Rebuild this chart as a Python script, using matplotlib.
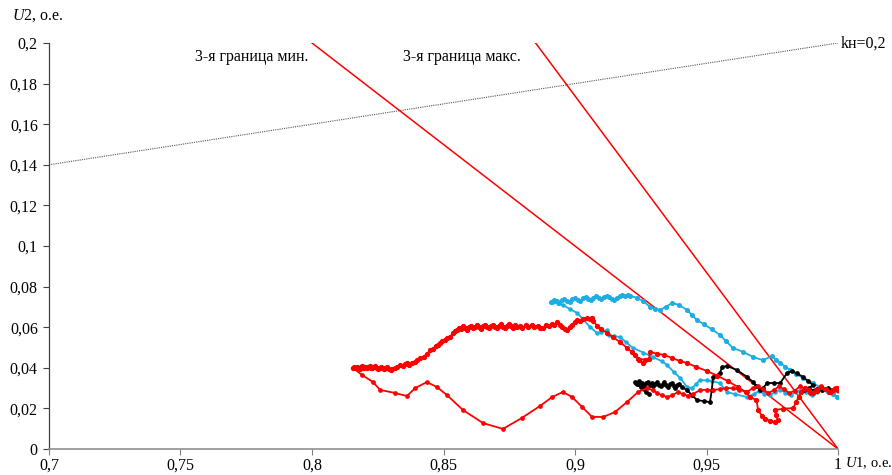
import matplotlib
matplotlib.use('Agg')
import matplotlib.pyplot as plt
from matplotlib.ticker import FuncFormatter

plt.rcParams['font.family'] = ['Liberation Serif', 'DejaVu Serif']
plt.rcParams['mathtext.fontset'] = 'custom'
plt.rcParams['mathtext.rm'] = 'Liberation Serif'
plt.rcParams['mathtext.it'] = 'Liberation Serif:italic'

# граница kн=0,2 и 3-и границы
kn_x = [0.7, 1.0]
kn_y = [0.14, 0.2]
gr_min_x = [0.8, 1.0]
gr_min_y = [0.2, 0.0]
gr_max_x = [0.885, 1.0]
gr_max_y = [0.2, 0.0]

# красная траектория 1 (верхняя)
red1_x = [0.8155, 0.8160, 0.8166, 0.8170, 0.8176, 0.8181, 0.8186, 0.8192, 0.8197, 0.8203,
          0.8208, 0.8214, 0.8219, 0.8225, 0.8230, 0.8236, 0.8241, 0.8247, 0.8252, 0.8258,
          0.8263, 0.8269, 0.8275, 0.8281, 0.8287, 0.8293, 0.8299, 0.8305,
          0.8315, 0.8325, 0.8335, 0.8345, 0.8355, 0.8362, 0.8370, 0.8380, 0.8390, 0.8400,
          0.8412, 0.8425, 0.8437, 0.8449, 0.8460, 0.8470, 0.8480, 0.8487, 0.8495, 0.8505,
          0.8515, 0.8525, 0.8535, 0.8545, 0.8551,
          0.8559, 0.8566, 0.8574, 0.8581, 0.8589, 0.8597, 0.8604, 0.8612, 0.8620, 0.8627,
          0.8635, 0.8643, 0.8650, 0.8658, 0.8666, 0.8673, 0.8681, 0.8689, 0.8696, 0.8704,
          0.8712, 0.8719, 0.8727, 0.8735, 0.8742, 0.8750, 0.8758, 0.8765, 0.8773, 0.8780,
          0.8790, 0.8800, 0.8812, 0.8822, 0.8835, 0.8845, 0.8858, 0.8868, 0.8878, 0.8890,
          0.8900, 0.8912, 0.8922, 0.8932, 0.8942, 0.8952, 0.8962, 0.8970, 0.8980, 0.8990,
          0.9000, 0.9008, 0.9020, 0.9032, 0.9046, 0.9058, 0.9065, 0.9070, 0.9085, 0.9100,
          0.9122, 0.9145, 0.9170, 0.9198, 0.9215, 0.9228, 0.9245, 0.9258, 0.9240, 0.9265,
          0.9282, 0.9285, 0.9310, 0.9340, 0.9370, 0.9400, 0.9425, 0.9460, 0.9500, 0.9540,
          0.9580, 0.9620, 0.9650, 0.9665, 0.9690, 0.9696, 0.9710, 0.9722, 0.9740, 0.9760,
          0.9770, 0.9765, 0.9760, 0.9790, 0.9830, 0.9840, 0.9850, 0.9860, 0.9875, 0.9890,
          0.9905, 0.9920, 0.9935, 0.9950, 0.9965, 0.9980, 0.9995, 1.0000]
red1_y = [0.0400, 0.0404, 0.0398, 0.0405, 0.0401, 0.0396, 0.0403, 0.0407, 0.0399, 0.0404,
          0.0398, 0.0406, 0.0409, 0.0401, 0.0397, 0.0404, 0.0408, 0.0400, 0.0395, 0.0401,
          0.0406, 0.0398, 0.0393, 0.0399, 0.0404, 0.0396, 0.0391, 0.0394,
          0.0400, 0.0405, 0.0412, 0.0408, 0.0418, 0.0423, 0.0416, 0.0425, 0.0430, 0.0437,
          0.0446, 0.0455, 0.0468, 0.0488, 0.0495, 0.0505, 0.0512, 0.0522, 0.0530, 0.0538,
          0.0545, 0.0552, 0.0570, 0.0580, 0.0586,
          0.0598, 0.0590, 0.0604, 0.0596, 0.0588, 0.0601, 0.0608, 0.0595, 0.0603, 0.0611,
          0.0599, 0.0592, 0.0605, 0.0612, 0.0600, 0.0594, 0.0606, 0.0613, 0.0602, 0.0595,
          0.0607, 0.0614, 0.0603, 0.0596, 0.0608, 0.0615, 0.0604, 0.0597, 0.0609, 0.0601,
          0.0605, 0.0598, 0.0610, 0.0602, 0.0612, 0.0600, 0.0608, 0.0594, 0.0596, 0.0612,
          0.0605, 0.0618, 0.0610, 0.0626, 0.0612, 0.0600, 0.0592, 0.0586, 0.0600, 0.0612,
          0.0625, 0.0635, 0.0630, 0.0642, 0.0645, 0.0640, 0.0645, 0.0630, 0.0605, 0.0590,
          0.0571, 0.0551, 0.0528, 0.0498, 0.0478, 0.0463, 0.0440, 0.0424, 0.0445, 0.0440,
          0.0445, 0.0478, 0.0470, 0.0463, 0.0448, 0.0433, 0.0424, 0.0405, 0.0385, 0.0362,
          0.0335, 0.0305, 0.0280, 0.0256, 0.0241, 0.0192, 0.0165, 0.0148, 0.0140, 0.0133,
          0.0145, 0.0170, 0.0192, 0.0198, 0.0202, 0.0230, 0.0256, 0.0280, 0.0300, 0.0290,
          0.0275, 0.0285, 0.0305, 0.0295, 0.0280, 0.0290, 0.0300, 0.0293]

# красная траектория 2 (нижняя)
red2_x = [0.8156, 0.8190, 0.8232, 0.8259, 0.8316, 0.8361, 0.8392, 0.8437, 0.8475, 0.8513,
          0.8574, 0.8650, 0.8726, 0.8798, 0.8867, 0.8913, 0.8954, 0.8989, 0.9027, 0.9065,
          0.9107, 0.9152, 0.9198, 0.9240, 0.9274, 0.9295, 0.9312, 0.9330, 0.9350, 0.9370,
          0.9390, 0.9410, 0.9430, 0.9450, 0.9475, 0.9500, 0.9525, 0.9550, 0.9575, 0.9600,
          0.9625, 0.9654, 0.9675, 0.9695, 0.9715, 0.9735, 0.9755, 0.9775, 0.9795, 0.9815,
          0.9835, 0.9855, 0.9875, 0.9895, 0.9915, 0.9935, 0.9955, 0.9975, 0.9990, 1.0000]
red2_y = [0.0399, 0.0365, 0.0330, 0.0291, 0.0276, 0.0261, 0.0300, 0.0330, 0.0305, 0.0266,
          0.0192, 0.0128, 0.0099, 0.0153, 0.0212, 0.0256, 0.0281, 0.0256, 0.0207, 0.0158,
          0.0158, 0.0182, 0.0232, 0.0281, 0.0300, 0.0290, 0.0276, 0.0265, 0.0256, 0.0265,
          0.0280, 0.0270, 0.0262, 0.0272, 0.0290, 0.0292, 0.0290, 0.0295, 0.0300, 0.0300,
          0.0292, 0.0280, 0.0300, 0.0310, 0.0295, 0.0275, 0.0290, 0.0308, 0.0295, 0.0275,
          0.0288, 0.0308, 0.0296, 0.0276, 0.0290, 0.0308, 0.0296, 0.0280, 0.0300, 0.0296]

# голубая траектория 1 (верхняя)
blue1_x = [0.8910, 0.8920, 0.8930, 0.8940, 0.8950, 0.8960, 0.8970, 0.8980, 0.8990, 0.9000,
           0.9010, 0.9020, 0.9030, 0.9040, 0.9050, 0.9060, 0.9070, 0.9080, 0.9090, 0.9100,
           0.9110, 0.9120, 0.9130, 0.9140, 0.9150, 0.9160, 0.9170, 0.9180, 0.9190, 0.9200,
           0.9210, 0.9235, 0.9260, 0.9285, 0.9305, 0.9323, 0.9345, 0.9369, 0.9395, 0.9426,
           0.9445, 0.9464, 0.9490, 0.9520, 0.9551, 0.9575, 0.9600, 0.9640, 0.9677, 0.9715,
           0.9749, 0.9765, 0.9780, 0.9800, 0.9818, 0.9840, 0.9867, 0.9905, 0.9930, 0.9958,
           0.9980, 0.9996]
blue1_y = [0.0724, 0.0735, 0.0728, 0.0720, 0.0732, 0.0738, 0.0730, 0.0726, 0.0738, 0.0745,
           0.0735, 0.0730, 0.0742, 0.0748, 0.0740, 0.0733, 0.0745, 0.0752, 0.0744, 0.0738,
           0.0750, 0.0756, 0.0748, 0.0740, 0.0735, 0.0745, 0.0752, 0.0760, 0.0752, 0.0759,
           0.0755, 0.0745, 0.0728, 0.0700, 0.0692, 0.0685, 0.0700, 0.0719, 0.0710, 0.0685,
           0.0660, 0.0635, 0.0615, 0.0590, 0.0562, 0.0530, 0.0498, 0.0478, 0.0453, 0.0438,
           0.0458, 0.0440, 0.0424, 0.0405, 0.0389, 0.0370, 0.0350, 0.0325, 0.0305, 0.0290,
           0.0270, 0.0256]

# голубая траектория 2 (нижняя)
blue2_x = [0.8916, 0.8935, 0.8954, 0.8980, 0.9008, 0.9030, 0.9057, 0.9084, 0.9100, 0.9122,
           0.9130, 0.9150, 0.9171, 0.9195, 0.9220, 0.9260, 0.9297, 0.9330, 0.9350, 0.9375,
           0.9400, 0.9426, 0.9445, 0.9460, 0.9475, 0.9500, 0.9520, 0.9550, 0.9578, 0.9610,
           0.9654, 0.9680, 0.9700, 0.9720, 0.9740, 0.9760, 0.9780, 0.9800, 0.9820, 0.9840,
           0.9860, 0.9880, 0.9900, 0.9920, 0.9940, 0.9960, 0.9980, 1.0000]
blue2_y = [0.0724, 0.0718, 0.0709, 0.0690, 0.0670, 0.0640, 0.0601, 0.0571, 0.0575, 0.0586,
           0.0560, 0.0555, 0.0552, 0.0525, 0.0498, 0.0475, 0.0453, 0.0432, 0.0414, 0.0380,
           0.0350, 0.0305, 0.0300, 0.0320, 0.0340, 0.0338, 0.0335, 0.0325, 0.0280, 0.0270,
           0.0256, 0.0270, 0.0285, 0.0272, 0.0265, 0.0280, 0.0292, 0.0278, 0.0266, 0.0281,
           0.0293, 0.0279, 0.0268, 0.0282, 0.0292, 0.0280, 0.0272, 0.0285]

# чёрная траектория
black_x = [0.9280, 0.9270, 0.9262, 0.9250, 0.9240, 0.9230, 0.9228, 0.9235, 0.9242, 0.9249,
           0.9256, 0.9263, 0.9270, 0.9277, 0.9284, 0.9291, 0.9298, 0.9305, 0.9312, 0.9319,
           0.9326, 0.9333, 0.9340, 0.9347, 0.9354, 0.9361, 0.9368, 0.9375, 0.9382, 0.9389,
           0.9396, 0.9405, 0.9426, 0.9445, 0.9464, 0.9490, 0.9513, 0.9520, 0.9525, 0.9551,
           0.9559, 0.9578, 0.9616, 0.9654, 0.9677, 0.9690, 0.9704, 0.9715, 0.9730, 0.9755,
           0.9780, 0.9806, 0.9825, 0.9845, 0.9867, 0.9885, 0.9905, 0.9890, 0.9870, 0.9900,
           0.9920, 0.9940, 0.9960, 0.9980, 1.0000]
black_y = [0.0270, 0.0282, 0.0295, 0.0305, 0.0318, 0.0325, 0.0330, 0.0322, 0.0333, 0.0318,
           0.0326, 0.0312, 0.0324, 0.0332, 0.0315, 0.0325, 0.0310, 0.0322, 0.0331, 0.0316,
           0.0308, 0.0320, 0.0328, 0.0314, 0.0305, 0.0318, 0.0326, 0.0312, 0.0302, 0.0315,
           0.0322, 0.0305, 0.0290, 0.0265, 0.0241, 0.0236, 0.0231, 0.0290, 0.0355, 0.0374,
           0.0404, 0.0409, 0.0389, 0.0355, 0.0330, 0.0310, 0.0290, 0.0300, 0.0325, 0.0325,
           0.0325, 0.0374, 0.0384, 0.0372, 0.0355, 0.0335, 0.0315, 0.0300, 0.0292, 0.0288,
           0.0298, 0.0290, 0.0300, 0.0292, 0.0298]

x_ticks = [0.7, 0.75, 0.8, 0.85, 0.9, 0.95, 1.0]
y_ticks = [0, 0.02, 0.04, 0.06, 0.08, 0.1, 0.12, 0.14, 0.16, 0.18, 0.2]

RED = '#FF0000'
BLUE = '#1CADE4'
FS = 11.5

fig = plt.figure(figsize=(8.92, 4.75), dpi=100)
ax = fig.add_axes([0.0549, 0.0547, 0.8846, 0.8548])

ax.plot(kn_x, kn_y, color='#555555', lw=0.8, ls=(0, (1, 1)))
ax.plot(gr_min_x, gr_min_y, color=RED, lw=1.1)
ax.plot(gr_max_x, gr_max_y, color=RED, lw=1.1)

ax.plot(blue1_x, blue1_y, color=BLUE, lw=1.3, marker='o', ms=2.6)
ax.plot(blue2_x, blue2_y, color=BLUE, lw=1.3, marker='o', ms=2.2)
ax.plot(black_x, black_y, color='black', lw=1.3, marker='o', ms=2.4)
ax.plot(red1_x, red1_y, color=RED, lw=1.3, marker='o', ms=2.8)
ax.plot(red2_x, red2_y, color=RED, lw=1.3, marker='o', ms=2.4)

ax.set_xlim(0.7, 1.0)
ax.set_ylim(0, 0.2)
ax.set_xticks(x_ticks)
ax.set_yticks(y_ticks)

def comma(v, pos):
    s = ('%.2f' % v).rstrip('0').rstrip('.')
    return s.replace('.', ',')

ax.xaxis.set_major_formatter(FuncFormatter(comma))
ax.yaxis.set_major_formatter(FuncFormatter(comma))
ax.tick_params(axis='both', labelsize=FS, direction='out', length=4, width=0.8)
ax.tick_params(axis='x', colors='#808080', labelcolor='black', pad=2)
ax.tick_params(axis='y', colors='#404040', labelcolor='black', pad=4)

for s in ['top', 'right']:
    ax.spines[s].set_visible(False)
ax.spines['left'].set_color('#404040')
ax.spines['bottom'].set_color('#909090')
ax.spines['left'].set_linewidth(0.9)
ax.spines['bottom'].set_linewidth(1.2)

ax.text(0.7555, 0.193, '3-я граница мин.', fontsize=FS, va='center', ha='left')
ax.text(0.8346, 0.193, '3-я граница макс.', fontsize=FS, va='center', ha='left')
ax.text(1.001, 0.1995, 'kн=0,2', fontsize=FS, va='center', ha='left')

fig.text(12 / 892, 1 - 16 / 475, r'$\mathit{U2}$, о.е.', fontsize=FS, va='center', ha='left')
fig.text(845 / 892, 1 - 463 / 475, r'$\mathit{U1}$, о.е.', fontsize=10.5, va='center', ha='left')

plt.savefig('out.png', dpi=100)
